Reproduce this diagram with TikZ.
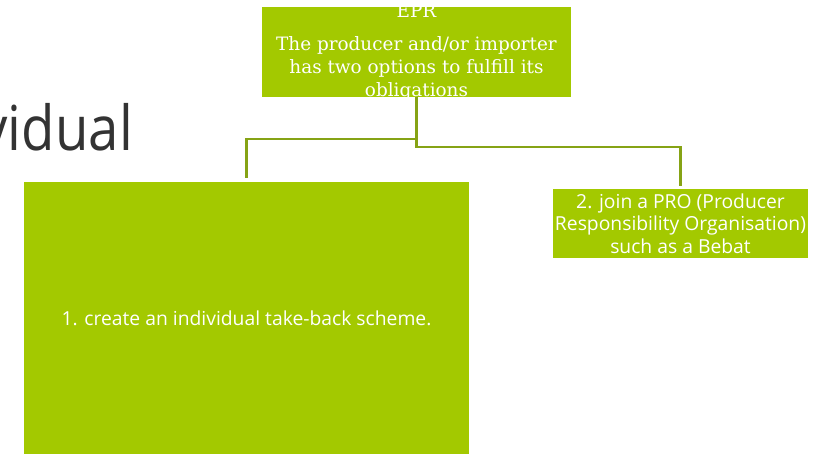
\documentclass[tikz,border=0pt]{standalone}
\usepackage{fontspec}
\setmainfont{Open Sans}
\newfontfamily\serifbox{DejaVu Serif}
\definecolor{boxgreen}{RGB}{163,201,0}
\definecolor{linegreen}{RGB}{134,163,21}
\definecolor{titlegray}{RGB}{51,51,51}
\begin{document}
\begin{tikzpicture}[x=1pt,y=-1pt,
  gbox/.style={fill=boxgreen, draw=none, inner sep=0pt, text=white, align=center},
  conn/.style={draw=linegreen, line width=2.2pt}]
\useasboundingbox (0,0) rectangle (828,454);
\fill[white] (0,0) rectangle (828,454);
% title fragment
\node[anchor=base east, inner sep=0pt, text=titlegray, font=\fontsize{62}{70}\selectfont] (title) at (133,151) {\scalebox{0.88}[1]{vidual}};
% boxes
\node[gbox, minimum width=309pt, minimum height=90pt] (top) at (416.5,52)
  {\smash{\raisebox{-3pt}{\parbox[c]{300pt}{\centering\serifbox\fontsize{18.4}{23}\selectfont EPR\\[10pt]The producer and/or importer\\has two options to fulfill its\\obligations}}}};
\node[gbox, minimum width=445pt, minimum height=272pt, font=\fontsize{19.3}{22.5}\selectfont] (left) at (246.5,318)
  {1. create an individual take-back scheme.};
\node[gbox, minimum width=255pt, minimum height=69pt, font=\fontsize{19.3}{22.5}\selectfont] (right) at (680.5,223.5)
  {2. join a PRO (Producer\\Responsibility Organisation)\\such as a Bebat};
% connectors
\draw[conn, shorten >=4pt] (top.south) -- ++(0,42) -| (left.north);
\draw[conn, shorten >=3pt] (top.south) -- ++(0,50) -| (right.north);
\end{tikzpicture}
\end{document}
